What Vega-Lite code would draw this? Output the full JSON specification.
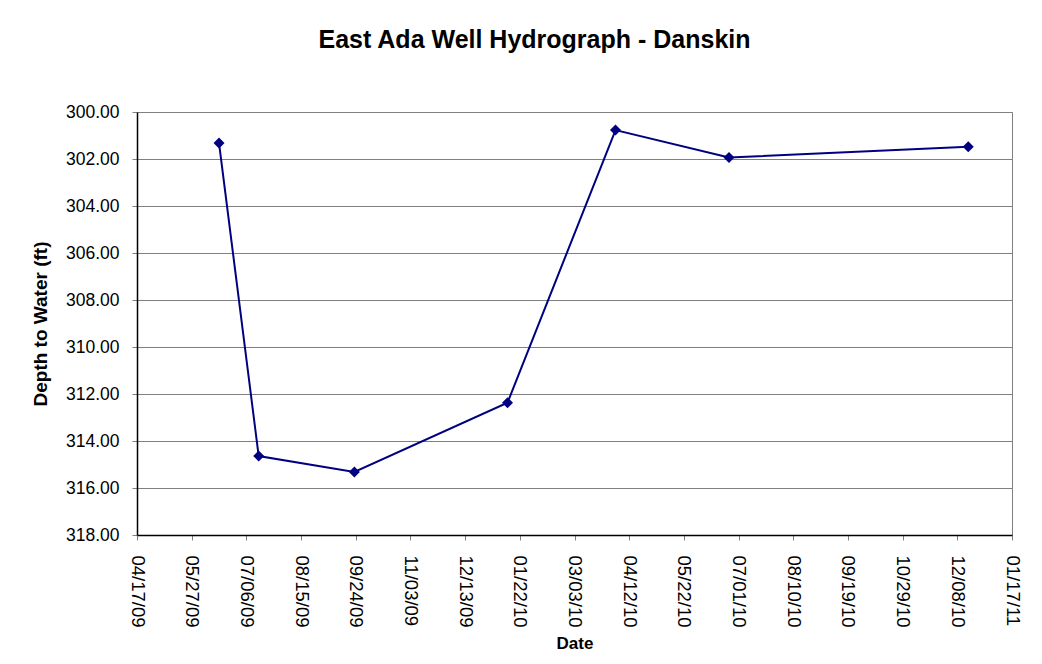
{
  "$schema": "https://vega.github.io/schema/vega-lite/v6.json",
  "width": 875,
  "height": 423,
  "autosize": "none",
  "padding": {"left": 137, "top": 112, "right": 30, "bottom": 129},
  "background": "white",
  "title": {
    "text": "East Ada Well Hydrograph - Danskin",
    "font": "Liberation Sans",
    "fontSize": 25,
    "fontWeight": "bold",
    "color": "black",
    "anchor": "middle",
    "dx": -40,
    "offset": 50
  },
  "config": {
    "view": {"stroke": "#808080", "strokeWidth": 1},
    "axis": {
      "labelFont": "Liberation Sans",
      "titleFont": "Liberation Sans",
      "labelColor": "black",
      "titleColor": "black",
      "domainColor": "black",
      "tickColor": "#808080",
      "gridColor": "#808080",
      "gridOpacity": 1
    }
  },
  "data": {
    "values": [
      {"date": "2009-06-16", "depth": 301.32},
      {"date": "2009-07-15", "depth": 314.64},
      {"date": "2009-09-23", "depth": 315.32},
      {"date": "2010-01-13", "depth": 312.37},
      {"date": "2010-04-02", "depth": 300.77},
      {"date": "2010-06-24", "depth": 301.94},
      {"date": "2010-12-16", "depth": 301.48}
    ]
  },
  "mark": {"type": "line", "color": "#000080", "strokeWidth": 2,
           "point": {"shape": "diamond", "size": 121, "filled": true, "color": "#000080", "opacity": 1}},
  "encoding": {
    "x": {
      "field": "date",
      "type": "temporal",
      "scale": {"type": "utc", "domain": [{"year": 2009, "month": 4, "date": 17, "utc": true}, {"year": 2011, "month": 1, "date": 17, "utc": true}], "nice": false},
      "axis": {
        "title": "Date",
        "titleFontSize": 17,
        "titleFontWeight": "bold",
        "titlePadding": 8,
        "format": "%m/%d/%y",
        "labelAngle": 90,
        "labelAlign": "left",
        "labelBaseline": "middle",
        "labelFontSize": 18.5,
        "labelPadding": 15,
        "labelOverlap": false,
        "labelFlush": false,
        "grid": false,
        "tickSize": 5,
        "domainWidth": 1.5,
        "values": [
          {"year": 2009, "month": 4, "date": 17, "utc": true},
          {"year": 2009, "month": 5, "date": 27, "utc": true},
          {"year": 2009, "month": 7, "date": 6, "utc": true},
          {"year": 2009, "month": 8, "date": 15, "utc": true},
          {"year": 2009, "month": 9, "date": 24, "utc": true},
          {"year": 2009, "month": 11, "date": 3, "utc": true},
          {"year": 2009, "month": 12, "date": 13, "utc": true},
          {"year": 2010, "month": 1, "date": 22, "utc": true},
          {"year": 2010, "month": 3, "date": 3, "utc": true},
          {"year": 2010, "month": 4, "date": 12, "utc": true},
          {"year": 2010, "month": 5, "date": 22, "utc": true},
          {"year": 2010, "month": 7, "date": 1, "utc": true},
          {"year": 2010, "month": 8, "date": 10, "utc": true},
          {"year": 2010, "month": 9, "date": 19, "utc": true},
          {"year": 2010, "month": 10, "date": 29, "utc": true},
          {"year": 2010, "month": 12, "date": 8, "utc": true},
          {"year": 2011, "month": 1, "date": 17, "utc": true}
        ]
      }
    },
    "y": {
      "field": "depth",
      "type": "quantitative",
      "scale": {"domain": [300, 318], "reverse": true, "nice": false, "zero": false},
      "axis": {
        "title": "Depth to Water (ft)",
        "titleFontSize": 19,
        "titleFontWeight": "bold",
        "titlePadding": 15,
        "format": ".2f",
        "values": [300, 302, 304, 306, 308, 310, 312, 314, 316, 318],
        "labelFontSize": 17.5,
        "labelPadding": 13,
        "tickSize": 5,
        "domainWidth": 1.5,
        "grid": true
      }
    }
  }
}
